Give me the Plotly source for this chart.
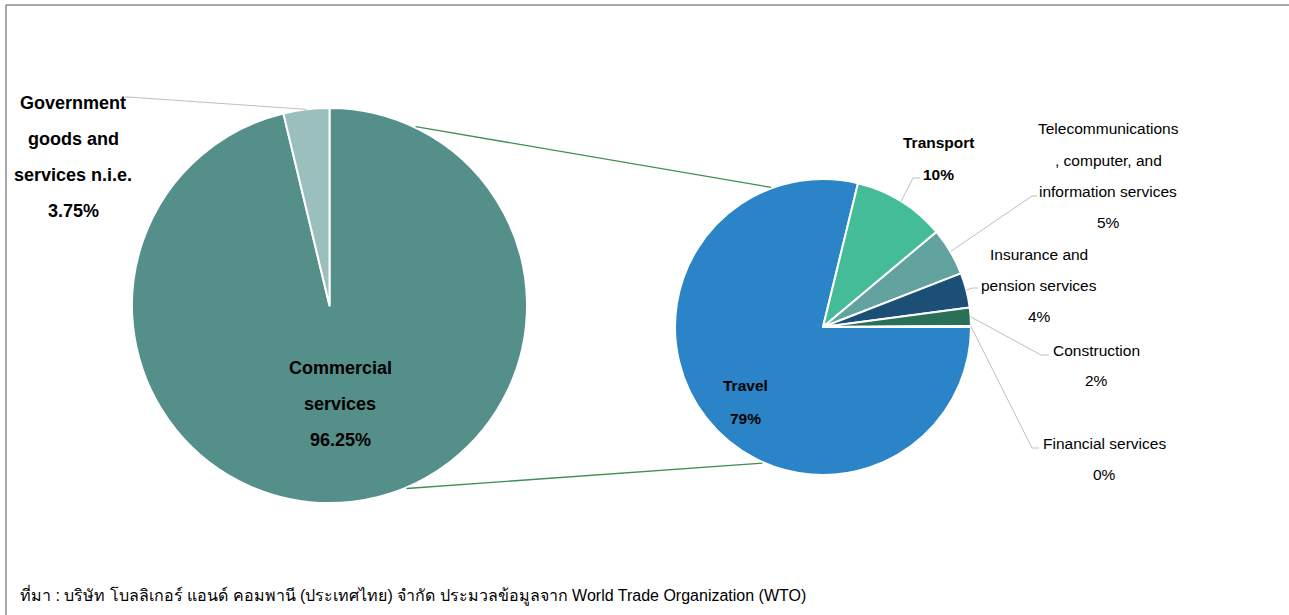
import math
import plotly.graph_objects as go

W, H = 1289, 615

# ---------------- data ----------------
outer_labels = ["Commercial services", "Government goods and services n.i.e."]
outer_values = [96.25, 3.75]
outer_colors = ["#558F8A", "#9BBFBC"]

inner_labels = ["Travel", "Transport",
                "Telecommunications, computer, and information services",
                "Insurance and pension services", "Construction", "Financial services"]
inner_values = [78.8, 10.1, 5.2, 3.8, 2.0, 0.1]
inner_colors = ["#2A84C7", "#44BC98", "#63A39F", "#1B4F75", "#2A7057", "#3A8FB0"]

source_text = "ที่มา : บริษัท โบลลิเกอร์ แอนด์ คอมพานี (ประเทศไทย) จำกัด ประมวลข้อมูลจาก World Trade Organization (WTO)"

# ---------------- geometry (pixels) ----------------
LCX, LCY, LR = 329.5, 305.5, 197.5
RCX, RCY, RR = 823.0, 327.0, 148.0
L_ROT, R_ROT = 0, 90

FONT = "Liberation Sans, Arial, sans-serif"


def px(x):
    return x / W


def py(y):
    return 1 - y / H


def dom(cx, cy, r):
    return dict(x=[px(cx - r), px(cx + r)], y=[py(cy + r), py(cy - r)])


def edge(cx, cy, r, theta):
    t = math.radians(theta)
    return cx + r * math.sin(t), cy - r * math.cos(t)


def mid_angle(values, i, rot):
    tot = sum(values)
    f = (sum(values[:i]) + values[i] / 2) / tot
    return rot + 360 * f


def pct(values, i, fmt="{:.0f}%"):
    return fmt.format(values[i] / sum(values) * 100)


fig = go.Figure()
fig.add_trace(go.Pie(labels=outer_labels, values=outer_values, sort=False,
                     direction="clockwise", rotation=L_ROT,
                     marker=dict(colors=outer_colors, line=dict(color="white", width=2)),
                     textinfo="none", hoverinfo="label+percent",
                     domain=dom(LCX, LCY, LR), showlegend=False))
fig.add_trace(go.Pie(labels=inner_labels, values=inner_values, sort=False,
                     direction="clockwise", rotation=R_ROT,
                     marker=dict(colors=inner_colors, line=dict(color="white", width=2)),
                     textinfo="none", hoverinfo="label+percent",
                     domain=dom(RCX, RCY, RR), showlegend=False))

shapes = []
annotations = []

# frame (left & top)
frame_col = "#8C8C8C"
shapes.append(dict(type="line", xref="paper", yref="paper", x0=px(6), x1=px(6), y0=py(5), y1=0,
                   line=dict(color=frame_col, width=1.5)))
shapes.append(dict(type="line", xref="paper", yref="paper", x0=px(6), x1=1, y0=py(5), y1=py(5),
                   line=dict(color=frame_col, width=1.5)))

# connectors between pies
conn_col = "#3F8F50"
for lt, rt in [(25.7, 339.6), (157.2, 204.0)]:
    x0, y0 = edge(LCX, LCY, LR + 1, lt)
    x1, y1 = edge(RCX, RCY, RR + 1, rt)
    shapes.append(dict(type="line", xref="paper", yref="paper", x0=px(x0), y0=py(y0),
                       x1=px(x1), y1=py(y1), line=dict(color=conn_col, width=1.3)))


def text_lines(lines, x, y0, dy, size, bold):
    for k, t in enumerate(lines):
        tt = f"<b>{t}</b>" if bold else t
        annotations.append(dict(x=px(x), y=py(y0 + k * dy), xref="paper", yref="paper",
                                text=tt, showarrow=False, xanchor="center", yanchor="middle",
                                font=dict(family=FONT, size=size, color="#000000")))


lead_col = "#BFBFBF"


def leader(start, elbow, end):
    path = f"M {px(start[0])},{py(start[1])} L {px(elbow[0])},{py(elbow[1])} L {px(end[0])},{py(end[1])}"
    shapes.append(dict(type="path", xref="paper", yref="paper", path=path,
                       line=dict(color=lead_col, width=1)))


# left pie labels
text_lines(["Government", "goods and", "services n.i.e.", pct(outer_values, 1, "{:.2f}%")],
           73, 103, 36, 18, True)
g = edge(LCX, LCY, LR, mid_angle(outer_values, 1, L_ROT))
leader(g, (128, 97), (125, 97))
text_lines(["Commercial", "services", pct(outer_values, 0, "{:.2f}%")], 340, 368, 36, 18, True)

# right pie labels
text_lines([inner_labels[0], pct(inner_values, 0)], 745, 385, 33, 15.5, True)
text_lines([inner_labels[1], pct(inner_values, 1)], 938, 142, 32, 15.5, True)
leader(edge(RCX, RCY, RR, mid_angle(inner_values, 1, R_ROT)), (913, 178), (920, 178))

text_lines(["Telecommunications", ", computer, and", "information services", pct(inner_values, 2)],
           1108, 129, 31, 15.5, False)
leader(edge(RCX, RCY, RR, mid_angle(inner_values, 2, R_ROT)), (1032, 196), (1037, 196))

text_lines(["Insurance and", "pension services", pct(inner_values, 3)], 1039, 254, 31, 15.5, False)
leader(edge(RCX, RCY, RR, mid_angle(inner_values, 3, R_ROT)), (972, 288), (978, 288))

text_lines([inner_labels[4], pct(inner_values, 4)], 1096, 350, 30, 15.5, False)
leader(edge(RCX, RCY, RR, mid_angle(inner_values, 4, R_ROT)), (1041, 355), (1049, 355))

text_lines([inner_labels[5], pct(inner_values, 5)], 1104, 443, 31, 15.5, False)
leader(edge(RCX, RCY, RR, mid_angle(inner_values, 5, R_ROT)), (1032, 448), (1039, 448))

# source
annotations.append(dict(x=px(18), y=py(595), xref="paper", yref="paper", text=source_text,
                        showarrow=False, xanchor="left", yanchor="middle",
                        font=dict(family=FONT, size=16, color="#000000")))

fig.update_layout(width=W, height=H, margin=dict(l=0, r=0, t=0, b=0),
                  paper_bgcolor="white", plot_bgcolor="white",
                  shapes=shapes, annotations=annotations, showlegend=False)

fig.write_html("out.html", config={"displayModeBar": False},
               post_script="document.body.style.margin='0';document.body.style.overflow='hidden';")
